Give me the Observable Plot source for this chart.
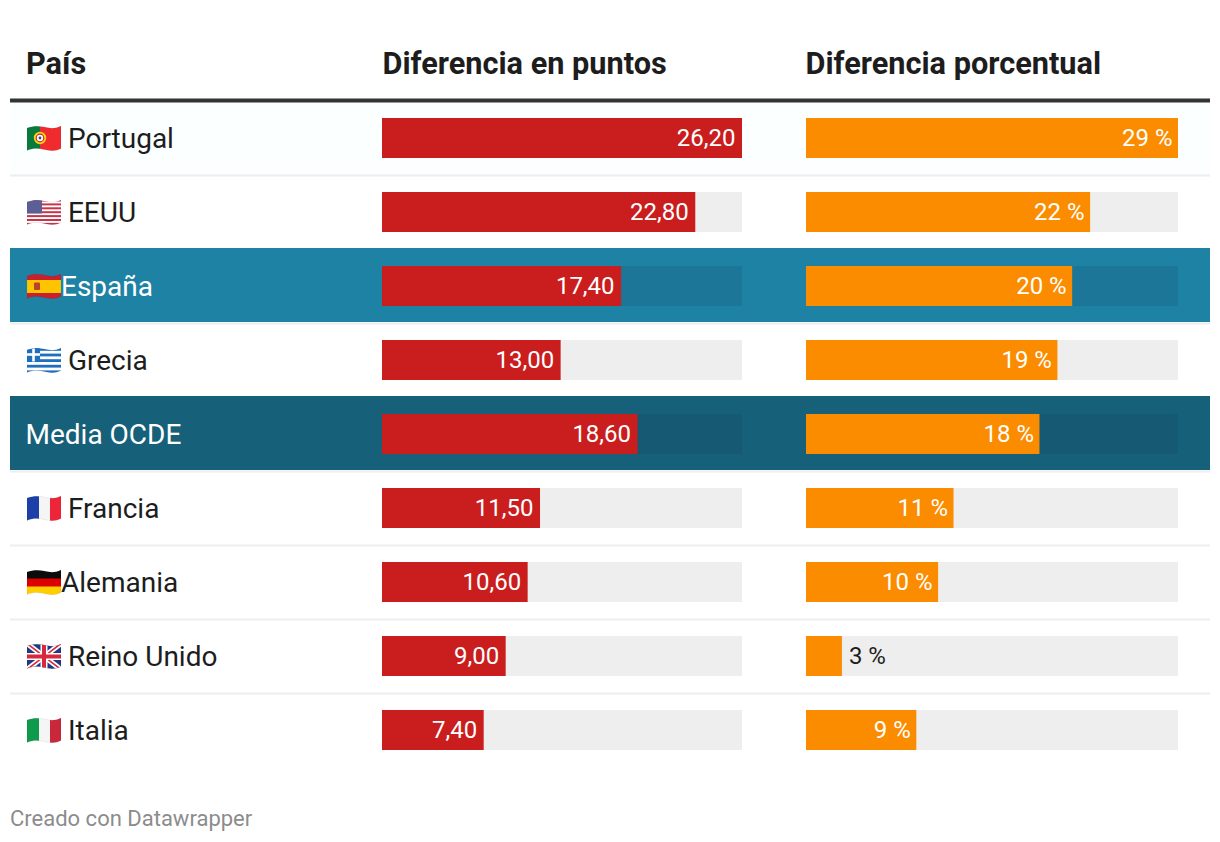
<!DOCTYPE html>
<html lang="es">
<head>
<meta charset="utf-8">
<title>Diferencia por país</title>
<script src="https://cdn.jsdelivr.net/npm/d3@7"></script>
<script src="https://cdn.jsdelivr.net/npm/@observablehq/plot@0.6"></script>
<style>
  html, body { margin: 0; padding: 0; background: #fff; }
  #chart { position: relative; width: 1220px; height: 842px; overflow: hidden; font-family: Roboto, sans-serif; }
  #chart svg { position: absolute; top: 0; max-width: none; }
  #footer { position: absolute; left: 10px; top: 806px; font-size: 22px; line-height: 26px; color: #8c8c8c; }
</style>
</head>
<body>
<div id="chart"></div>
<script>
const countries   = ["Portugal", "EEUU", "España", "Grecia", "Media OCDE", "Francia", "Alemania", "Reino Unido", "Italia"];
const displayName = ["\u00a0Portugal", "\u00a0EEUU", "España", "\u00a0Grecia", "Media OCDE", "\u00a0Francia", "Alemania", "\u00a0Reino Unido", "\u00a0Italia"];
const rowKinds    = ["pale", "plain", "spain", "plain", "oecd", "plain", "plain", "plain", "plain"];
const pointDiff   = [26.2, 22.8, 17.4, 13.0, 18.6, 11.5, 10.6, 9.0, 7.4];
const pointLabels = ["26,20", "22,80", "17,40", "13,00", "18,60", "11,50", "10,60", "9,00", "7,40"];
const pctDiff     = [29, 22.15, 20.75, 19.6, 18.2, 11.5, 10.3, 2.8, 8.6];
const pctLabels   = ["29 %", "22 %", "20 %", "19 %", "18 %", "11 %", "10 %", "3 %", "9 %"];

const wave = "M0 2.5C6 .5 11 0 17 1.5S28 3.5 34 .5V23C28 26 23 25.5 17 24S6 22.5 0 25Z";
const flagArt = {
  "Portugal": `<rect width="13" height="26" fill="#0a7a3c"/><rect x="13" width="21" height="26" fill="#ef2b2d"/><circle cx="13" cy="12.5" r="6.2" fill="#f7d417"/><circle cx="13" cy="12.5" r="3.8" fill="#fff" stroke="#d52b1e" stroke-width="1.2"/><circle cx="13" cy="12.5" r="1.4" fill="#1b4fa0"/>`,
  "EEUU": `<rect width="34" height="26" fill="#fff"/>` + [0,1,2,3,4,5,6].map(i => `<rect y="${i*3.9}" width="34" height="2" fill="#c8354a"/>`).join("") + `<rect width="15" height="14" fill="#5b5f96"/>`,
  "España": `<rect width="34" height="26" fill="#c8202c"/><rect y="6.5" width="34" height="13" fill="#ffc400"/><rect x="7" y="9" width="6" height="7.5" rx="1" fill="#b5442a"/>`,
  "Grecia": `<rect width="34" height="26" fill="#fff"/>` + [0,1,2,3,4].map(i => `<rect y="${i*5.6+.5}" width="34" height="2.8" fill="#1f6fc0"/>`).join("") + `<rect width="13" height="14" fill="#1f6fc0"/><rect x="5.2" width="2.6" height="14" fill="#fff"/><rect y="5.7" width="13" height="2.6" fill="#fff"/>`,
  "Francia": `<rect width="12" height="26" fill="#1d3fa8"/><rect x="12" width="11" height="26" fill="#f5f5f5"/><rect x="23" width="11" height="26" fill="#ee2438"/>`,
  "Alemania": `<rect width="34" height="9.5" fill="#0c0c0c"/><rect y="9" width="34" height="8.5" fill="#dd0000"/><rect y="17" width="34" height="9" fill="#ffce00"/>`,
  "Reino Unido": `<rect width="34" height="26" fill="#1f3a80"/><path d="M0 0L34 26M34 0L0 26" stroke="#fff" stroke-width="5"/><path d="M0 0L34 26M34 0L0 26" stroke="#d8283e" stroke-width="1.6"/><path d="M17 0V26M0 13H34" stroke="#fff" stroke-width="7"/><path d="M17 0V26M0 13H34" stroke="#d8283e" stroke-width="4"/>`,
  "Italia": `<rect width="12" height="26" fill="#0f9a4c"/><rect x="12" width="11" height="26" fill="#f5f5f5"/><rect x="23" width="11" height="26" fill="#c8283a"/>`
};
const flagSrc = name => "data:image/svg+xml;utf8," + encodeURIComponent(
  `<svg xmlns="http://www.w3.org/2000/svg" width="68" height="52" viewBox="0 0 34 26"><clipPath id="w"><path d="${wave}"/></clipPath><g clip-path="url(#w)">${flagArt[name]}</g><path d="${wave}" fill="none" stroke="#000" stroke-opacity=".12" stroke-width=".5"/></svg>`);

const rows = countries.map((name, i) => ({
  name, i, label: displayName[i], kind: rowKinds[i],
  points: pointDiff[i], pointLabel: pointLabels[i],
  pct: pctDiff[i], pctLabel: pctLabels[i],
  flag: flagArt[name] ? flagSrc(name) : null
}));

const H = 770, TOP = 100, BOTTOM = 4;
const yScale = { domain: countries, padding: 0, axis: null };
const base = { height: H, marginTop: TOP, marginBottom: BOTTOM, marginLeft: 0, marginRight: 0,
               style: { background: "transparent", fontFamily: "Roboto, sans-serif", overflow: "visible" } };
const INK = "#1d1d1d";

const background = Plot.plot({
  ...base, width: 1200,
  y: yScale,
  color: { domain: ["pale", "spain", "oecd"], range: ["#fbffff", "#1e82a5", "#176079"] },
  marks: [
    Plot.tickY(rows.filter(d => d.i < rows.length - 1), { y: "name", stroke: "#eeeeee", strokeWidth: 2, dy: 38 }),
    Plot.cell(rows.filter(d => d.kind !== "plain"), { y: "name", fill: "kind" }),
    Plot.tickY(rows.filter(d => d.kind === "pale"), { y: "name", stroke: "#333333", strokeWidth: 4, dy: -37 }),
    Plot.image(rows.filter(d => d.flag), { y: "name", src: "flag", frameAnchor: "left", dx: 33.5, dy: 1, width: 34, height: 26 }),
    Plot.text(rows.filter(d => d.flag), { y: "name", text: "label", frameAnchor: "left", textAnchor: "start", dx: 50.5, dy: 2,
      fontSize: 28, fill: d => d.kind === "spain" ? "#ffffff" : INK }),
    Plot.text(rows.filter(d => !d.flag), { y: "name", text: "label", frameAnchor: "left", textAnchor: "start", dx: 15, dy: 2, fontSize: 28, fill: "#ffffff" }),
    Plot.text(["País"], { frameAnchor: "top-left", dx: 15.5, dy: -48, fontSize: 30.7, fontWeight: 700, fill: INK })
  ]
});
background.style.left = "10px";

function column(title, width, maxValue, valueKey, labelKey, barColor, left, labelDx, titleDx) {
  const svg = Plot.plot({
    ...base, width,
    x: { domain: [0, maxValue], range: [0, width], axis: null },
    y: yScale,
    color: { domain: ["plain", "pale", "spain", "oecd"], range: ["#eeeeee", "#eeeeee", "#1c7698", "#155a72"] },
    marks: [
      Plot.barX(rows, { y: "name", x1: 0, x2: maxValue, fill: "kind", insetTop: 18, insetBottom: 16 }),
      Plot.barX(rows, { y: "name", x1: 0, x2: valueKey, fill: barColor, insetTop: 18, insetBottom: 16 }),
      Plot.text(rows.filter(d => d[valueKey] / maxValue >= 0.15), { y: "name", x: valueKey, text: labelKey, textAnchor: "end", dx: labelDx, dy: 1, fontSize: 24, fill: "#ffffff" }),
      Plot.text(rows.filter(d => d[valueKey] / maxValue < 0.15), { y: "name", x: valueKey, text: labelKey, textAnchor: "start", dx: 6.5, dy: 1, fontSize: 24, fill: INK }),
      Plot.text([title], { frameAnchor: "top-left", dy: -48, dx: titleDx, fontSize: 30.7, fontWeight: 700, fill: INK })
    ]
  });
  svg.style.left = left + "px";
  return svg;
}

const chart = document.getElementById("chart");
chart.append(
  background,
  column("Diferencia en puntos", 360, 26.2, "points", "pointLabel", "#c91d1e", 382, -7, 0),
  column("Diferencia porcentual", 372, 29, "pct", "pctLabel", "#fb8c00", 806, -6, -1)
);
const footer = document.createElement("div");
footer.id = "footer";
footer.textContent = "Creado con Datawrapper";
chart.append(footer);
</script>
</body>
</html>
